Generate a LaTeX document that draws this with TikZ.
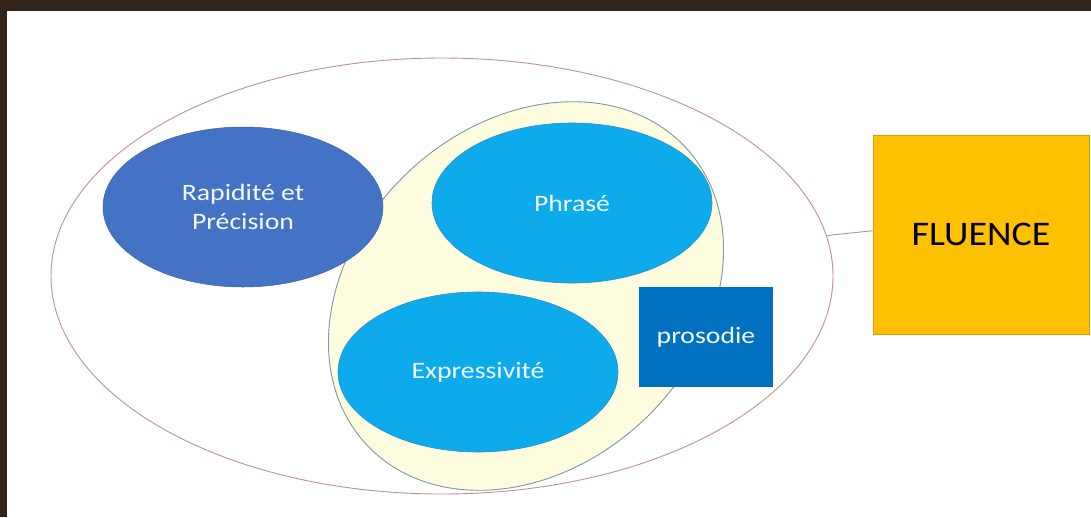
\documentclass[tikz,border=0pt]{standalone}
\usepackage{fontspec}
\setmainfont{Carlito}
\newfontfamily\widefont[FakeStretch=1.18]{Carlito}
\newfontfamily\titlefont[FakeStretch=1.10]{Carlito}
\usetikzlibrary{shapes.geometric}
\definecolor{photobg}{HTML}{33241A}
\definecolor{outerline}{HTML}{C2908F}
\definecolor{rapblue}{HTML}{4472C4}
\definecolor{lightblue}{HTML}{0DABEB}
\definecolor{lightblueline}{HTML}{2A8FC8}
\definecolor{prosblue}{HTML}{0070C0}
\definecolor{zonefill}{HTML}{FEFCDF}
\definecolor{zoneline}{HTML}{7E97A2}
\definecolor{fluencefill}{HTML}{FFC000}
\definecolor{fluenceline}{HTML}{D9A000}
\definecolor{softwhite}{HTML}{F2FAFF}
\tikzset{
  bubble/.style={ellipse, inner sep=0pt, minimum width=280pt, minimum height=160pt,
    text=softwhite, font=\widefont\fontsize{23.5}{29}\selectfont, align=center},
  squarebox/.style={rectangle, inner sep=0pt, align=center},
  linkline/.style={draw=outerline, line width=0.9pt}
}
\begin{document}
\begin{tikzpicture}[x=1pt,y=-1pt]
\useasboundingbox (0,0) rectangle (1091,517);
\fill[photobg] (0,0) rectangle (1091,517);
\fill[white] (7,11) rectangle (1091,517);

\node[ellipse, draw=outerline, line width=0.9pt, inner sep=0pt,
      minimum width=782pt, minimum height=436pt] (outer) at (442,276) {};
\node[ellipse, draw=zoneline, fill=zonefill, line width=0.9pt, inner sep=0pt,
      minimum width=436pt, minimum height=342pt, rotate=43] (zone) at (526,296) {};
\node[bubble, fill=rapblue, draw=rapblue!85!black, line width=0.5pt] (rap) at (243,207) {Rapidité et\\Précision};
\node[bubble, fill=lightblue, draw=lightblueline, line width=0.6pt] (phr) at (572,203) {Phrasé};
\node[bubble, fill=lightblue, draw=lightblueline, line width=0.6pt] (exp) at (478,372) {Expressivité};
\node[squarebox, fill=prosblue, minimum width=134pt, minimum height=100pt,
      text=softwhite, font=\widefont\fontsize{23.5}{28}\selectfont] (pros) at (706,337) {prosodie};
\node[squarebox, fill=fluencefill, draw=fluenceline, line width=0.6pt,
      minimum width=216pt, minimum height=199pt,
      font=\titlefont\fontsize{34.5}{40}\selectfont] (flu) at (981,234.5) {FLUENCE};
\draw[linkline] (outer.6) -- (flu.178);
\end{tikzpicture}
\end{document}
